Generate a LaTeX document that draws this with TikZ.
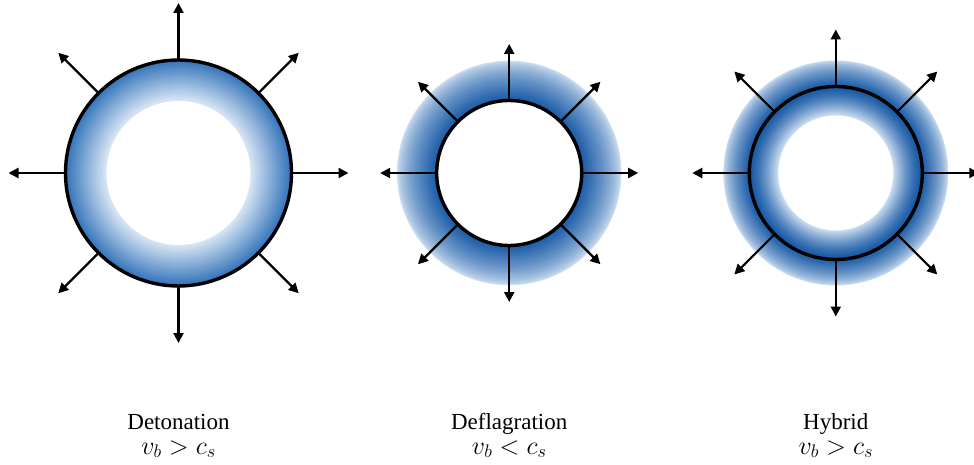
\RequirePackage{fix-cm}
\documentclass[tikz,border=0pt]{standalone}
\usepackage{fontspec}
\setmainfont{Liberation Serif}
\usetikzlibrary{arrows.meta}
\definecolor{detOut}{RGB}{52,116,186}
\definecolor{detIn}{RGB}{220,233,246}
\definecolor{dkblue}{RGB}{24,90,166}
\definecolor{ltblue}{RGB}{210,226,243}
% #1 centre, #2 outer radius, #3 inner radius, #4 colour at outer, #5 colour at inner, #6 exponent
\newcommand\ringgrad[6]{%
  \foreach \i in {0,...,80}{%
    \pgfmathsetmacro\rr{#2-(#2-#3)*\i/80}%
    \pgfmathtruncatemacro\pp{100*((\i/80)^#6)}%
    \fill[#5!\pp!#4] (#1) circle[radius=\rr pt];
  }}
\tikzset{
  ring/.style={circle, draw=black, line width=3.4pt, inner sep=0pt, outer sep=0pt, fill=none},
  arr/.style={-{Triangle[length=10pt,width=10pt]}, line width=2.2pt, black},
  lbl/.style={font=\fontsize{23}{27}\selectfont, anchor=base, inner sep=0pt, text height=16pt, text depth=1pt},
  mlbl/.style={font=\fontsize{26}{30}\selectfont, anchor=base, inner sep=0pt, text height=12pt, text depth=5pt},
}
\begin{document}
\begin{tikzpicture}[x=1pt,y=1pt]
\useasboundingbox (0,0) rectangle (974,464);
\coordinate (cA) at (178.5,291);
\coordinate (cB) at (509.2,291);
\coordinate (cC) at (835.8,291);
% Detonation gradient
\ringgrad{cA}{113}{72}{detOut}{detIn}{1}
\fill[white] (cA) circle[radius=72pt];
% Deflagration gradient
\ringgrad{cB}{112.3}{72.5}{ltblue}{dkblue}{0.7}
\fill[white] (cB) circle[radius=72.5pt];
% Hybrid gradient
\ringgrad{cC}{112.5}{86.5}{ltblue}{dkblue}{0.7}
\ringgrad{cC}{86.5}{57.5}{dkblue}{ltblue}{1.4}
\fill[white] (cC) circle[radius=57.5pt];
% circles
\node[ring, minimum size=226pt] (det) at (cA) {};
\node[ring, minimum size=145pt] (def) at (cB) {};
\node[ring, minimum size=173pt] (hyb) at (cC) {};
% arrows
\foreach \a in {0,45,...,315}{
  \coordinate (detE\a) at ([shift={(\a:170)}]det.center);
  \draw[arr] (det.\a) -- (detE\a);
  \coordinate (defE\a) at ([shift={(\a:129)}]def.center);
  \draw[arr] (def.\a) -- (defE\a);
  \coordinate (hybE\a) at ([shift={(\a:143.5)}]hyb.center);
  \draw[arr] (hyb.\a) -- (hybE\a);
}
% labels
\node[lbl] (detT) at (178.5,35) {Detonation};
\node[mlbl] (detM) at (178.5,10) {$v_b > c_s$};
\node[lbl] (defT) at (509.2,35) {Deflagration};
\node[mlbl] (defM) at (509.2,10) {$v_b < c_s$};
\node[lbl] (hybT) at (835.8,35) {Hybrid};
\node[mlbl] (hybM) at (835.8,10) {$v_b > c_s$};
\end{tikzpicture}
\end{document}
